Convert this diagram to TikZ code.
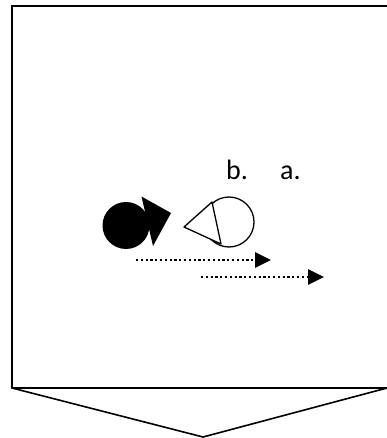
\documentclass[tikz,border=0pt]{standalone}
\usepackage{fontspec}
\setmainfont{Carlito}
\usetikzlibrary{arrows.meta}
\tikzset{
  outline/.style={draw=black,line width=1.6pt,line join=miter},
  lbl/.style={inner sep=0pt,anchor=base west,font=\fontsize{28}{30}\selectfont},
  dotarrow/.style={line width=2.8pt,dash pattern=on 2.2pt off 2.6pt,-{Triangle[length=16pt,width=15pt]}},
  blackpart/.style={fill=black,draw=none},
  whitepart/.style={draw=black,fill=white,line width=1.3pt,line join=round}
}
\begin{document}
\begin{tikzpicture}[x=1pt,y=-1pt]
\useasboundingbox (0,0) rectangle (387,438);
\fill[white] (0,0) rectangle (387,438);
% down-arrow callout frame
\draw[outline] (12,6) -- (400,6) -- (400,388) -- (387,388) -- (203,437) -- (12,388) -- cycle;
\draw[outline] (12,388) -- (387,388);
% labels
\node[lbl] (b) at (226,180) {b.};
\node[lbl] (a) at (280,180) {a.};
% black icon
\node[blackpart,circle,minimum size=47pt,inner sep=0pt] (bc) at (126,225.5) {};
\fill[black] (141.5,196.5) -- (171,213) -- (153,246) -- cycle;
% white icon
\node[whitepart,circle,minimum size=50pt,inner sep=0pt] (wc) at (229,222) {};
\draw[whitepart] (212,202) -- (184,227) -- (221,244) -- cycle;
% dotted arrows
\coordinate (s1) at (136,260);
\coordinate (e1) at (271,260);
\coordinate (s2) at (201,277);
\coordinate (e2) at (324,277);
\draw[dotarrow] (s1) -- (e1);
\draw[dotarrow] (s2) -- (e2);
\end{tikzpicture}
\end{document}
